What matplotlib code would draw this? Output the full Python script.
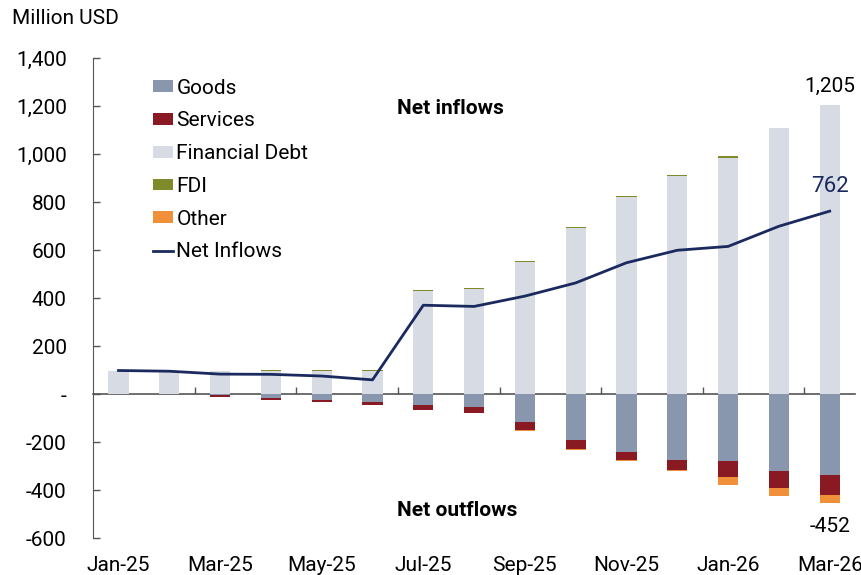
import matplotlib.pyplot as plt
from matplotlib.ticker import FuncFormatter
import numpy as np

plt.rcParams['font.family'] = ['Roboto', 'DejaVu Sans']

months = ["Jan-25", "Feb-25", "Mar-25", "Apr-25", "May-25", "Jun-25", "Jul-25", "Aug-25",
          "Sep-25", "Oct-25", "Nov-25", "Dec-25", "Jan-26", "Feb-26", "Mar-26"]

# inflows (positive) and outflows (negative), million USD
fin_debt = [97, 97, 96, 97, 97, 98, 430, 437, 552, 691, 821, 910, 985, 1109, 1205]
fdi = [0, 0, 0, 3, 3, 4, 4, 4, 4, 4, 3, 4, 5, 0, 0]
goods = [0, 0, -4, -18, -25, -35, -45, -53, -117, -192, -240, -273, -280, -319, -337]
services = [0, 0, -7, -7, -9, -9, -20, -25, -34, -37, -36, -42, -67, -72, -83]
other = [0, 0, 0, -1, -1, -2, -2, -1, -4, -4, -4, -4, -31, -32, -32]
net_inflows = [98, 95, 83, 82, 75, 59, 370, 365, 408, 463, 547, 599, 615, 699, 762]

c_goods = '#8896ae'
c_serv = '#891a24'
c_debt = '#d6dbe4'
c_fdi = '#7f8a2a'
c_other = '#f0903a'
c_line = '#1b2a5e'

x = np.arange(len(months))
w = 0.4

fig = plt.figure(figsize=(8.62, 5.75), dpi=100)
ax = fig.add_axes([0.108, 0.0643, 0.884, 0.8348])

goods = np.array(goods)
services = np.array(services)
ax.bar(x, goods, w, color=c_goods, label='Goods')
ax.bar(x, services, w, bottom=goods, color=c_serv, label='Services')
ax.bar(x, fin_debt, w, color=c_debt, label='Financial Debt')
ax.bar(x, fdi, w, bottom=fin_debt, color=c_fdi, label='FDI')
ax.bar(x, other, w, bottom=goods + services, color=c_other, label='Other')
ax.plot(x, net_inflows, color=c_line, lw=2, label='Net Inflows')

ax.set_xlim(-0.5, len(months) - 0.5)
ax.set_ylim(-600, 1400)
ax.set_yticks(range(-600, 1401, 200))
ax.yaxis.set_major_formatter(FuncFormatter(lambda v, p: '-' if v == 0 else f'{v:,.0f}'))
ax.tick_params(axis='y', direction='in', length=5, width=1, color='#555555',
               pad=19, labelsize=15)

ax.set_xticks(x[::2])
ax.set_xticklabels(months[::2])
ax.tick_params(axis='x', length=0, pad=13, labelsize=15)

for s in ['top', 'right', 'bottom']:
    ax.spines[s].set_visible(False)
ax.spines['left'].set_color('#555555')

# zero line with its own ticks between month pairs
zero = ax.secondary_xaxis(600 / 2000)
zero.set_xticks(x[1:-1:2] + 0.5)
zero.tick_params(direction='in', length=5, width=1, color='#555555', labelbottom=False)
zero.spines['bottom'].set_color('#555555')
zero.spines['bottom'].set_linewidth(1.2)

ax.annotate(f'{fin_debt[-1] + fdi[-1]:,}', (x[-1], fin_debt[-1] + fdi[-1]),
            xytext=(0, 13), textcoords='offset points', ha='center', va='center', fontsize=15)
ax.annotate(f'{net_inflows[-1]}', (x[-1], net_inflows[-1]), xytext=(0, 18),
            textcoords='offset points', ha='center', va='center', fontsize=16, color=c_line)
low = goods[-1] + services[-1] + other[-1]
ax.annotate(f'{low}', (x[-1], low), xytext=(0, -17), textcoords='offset points',
            ha='center', va='center', fontsize=15)

ax.text(5.48, 1188, 'Net inflows', fontsize=15, fontweight='bold', va='center', ha='left')
ax.text(5.48, -485, 'Net outflows', fontsize=15, fontweight='bold', va='center', ha='left')

fig.text(0.014, 0.968, 'Million USD', fontsize=15, va='center', ha='left')

h, l = ax.get_legend_handles_labels()
order = ['Goods', 'Services', 'Financial Debt', 'FDI', 'Other', 'Net Inflows']
hl = {lab: hh for hh, lab in zip(h, l)}
ax.legend([hl[o] for o in order], order, loc='upper left', bbox_to_anchor=(0.078, 0.957),
          frameon=False, fontsize=15, handlelength=1.0, handleheight=0.5,
          handletextpad=0.15, labelspacing=0.66, borderpad=0, borderaxespad=0)

fig.savefig('out.png', dpi=100)
